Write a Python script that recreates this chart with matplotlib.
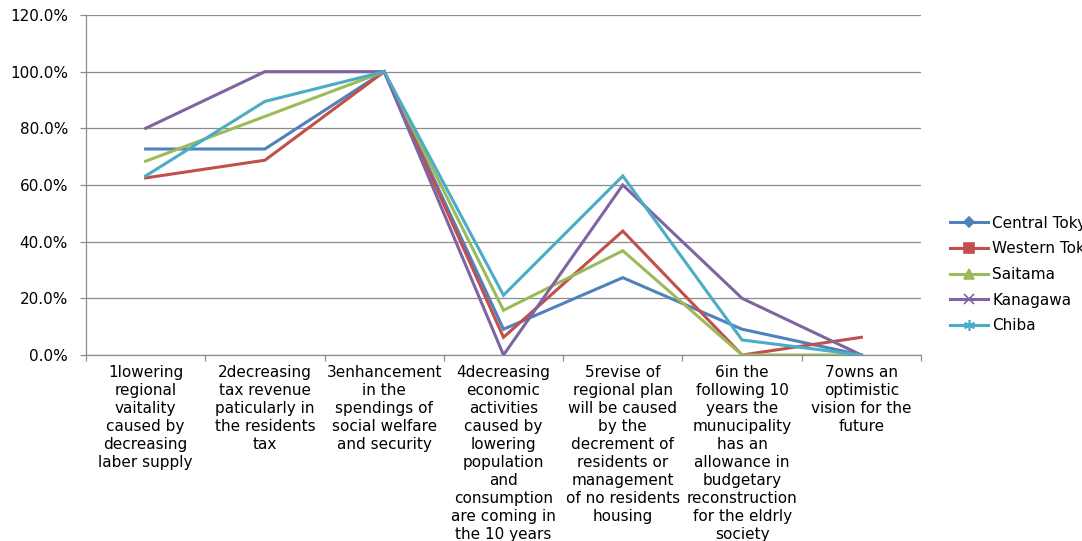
import matplotlib
matplotlib.use("Agg")
import matplotlib.pyplot as plt
from matplotlib.lines import Line2D
from matplotlib.ticker import PercentFormatter, FixedLocator

plt.rcParams['font.family'] = ['DejaVu Sans']

categories = [
    "1lowering\nregional\nvaitality\ncaused by\ndecreasing\nlaber supply",
    "2decreasing\ntax revenue\npaticularly in\nthe residents\ntax",
    "3enhancement\nin the\nspendings of\nsocial welfare\nand security",
    "4decreasing\neconomic\nactivities\ncaused by\nlowering\npopulation\nand\nconsumption\nare coming in\nthe 10 years",
    "5revise of\nregional plan\nwill be caused\nby the\ndecrement of\nresidents or\nmanagement\nof no residents\nhousing",
    "6in the\nfollowing 10\nyears the\nmunucipality\nhas an\nallowance in\nbudgetary\nreconstruction\nfor the eldrly\nsociety",
    "7owns an\noptimistic\nvision for the\nfuture",
]

central_tokyo = [72.7, 72.7, 100.0, 9.1, 27.3, 9.1, 0.0]
western_tokyo = [62.5, 68.75, 100.0, 6.25, 43.75, 0.0, 6.25]
saitama = [68.4, 84.2, 100.0, 15.8, 36.8, 0.0, 0.0]
kanagawa = [80.0, 100.0, 100.0, 0.0, 60.0, 20.0, 0.0]
chiba = [63.2, 89.5, 100.0, 21.1, 63.2, 5.3, 0.0]

series_names = ["Central Tokyo", "Western Tokyo", "Saitama", "Kanagawa", "Chiba"]
series_values = [central_tokyo, western_tokyo, saitama, kanagawa, chiba]
colors = ["#4F81BD", "#C0504D", "#9BBB59", "#8064A2", "#4BACC6"]
markers = ["D", "s", "^", "x", (6, 2, 0)]
marker_sizes = [5, 7, 7, 7, 8]

W, H = 1082, 541
fig = plt.figure(figsize=(W / 100, H / 100), dpi=100)
ax = fig.add_axes([86 / W, 1 - 355 / H, (921 - 86) / W, (355 - 15) / H])

x = list(range(len(categories)))
for i, vals in enumerate(series_values):
    ax.plot(x, vals, color=colors[i], linewidth=2.2,
            solid_joinstyle='miter', zorder=3 + i)

grid_col = "#8C8C8C"
ax.set_xlim(-0.5, len(categories) - 0.5)
ax.set_ylim(0, 120)
ax.set_yticks([0, 20, 40, 60, 80, 100, 120])
ax.yaxis.set_major_formatter(PercentFormatter(decimals=1))
ax.grid(axis='y', color=grid_col, linewidth=0.9)
ax.set_axisbelow(True)

ax.set_xticks(x)
ax.set_xticklabels(categories, fontsize=11, linespacing=1.25, va='top')
ax.xaxis.set_minor_locator(FixedLocator([i - 0.5 for i in range(len(categories) + 1)]))
ax.tick_params(axis='x', which='major', length=0, pad=7)
ax.tick_params(axis='x', which='minor', length=4, color=grid_col, width=0.9)
ax.tick_params(axis='y', length=4, color=grid_col, width=0.9, labelsize=11, pad=9)

for s in ['top', 'right']:
    ax.spines[s].set_visible(False)
for s in ['left', 'bottom']:
    ax.spines[s].set_color(grid_col)
    ax.spines[s].set_linewidth(0.9)

handles = [Line2D([0], [0], color=c, linewidth=2.2, marker=m, markersize=ms,
                  markeredgecolor=c, markerfacecolor=c, markeredgewidth=1.2)
           for c, m, ms in zip(colors, markers, marker_sizes)]
fig.legend(handles, series_names, loc='center left',
           bbox_to_anchor=(950 / W, 1 - 274.5 / H), frameon=False,
           fontsize=11, handlelength=2.5, handletextpad=0.25,
           labelspacing=0.7, borderpad=0, borderaxespad=0)

fig.savefig("out.png", dpi=100)
